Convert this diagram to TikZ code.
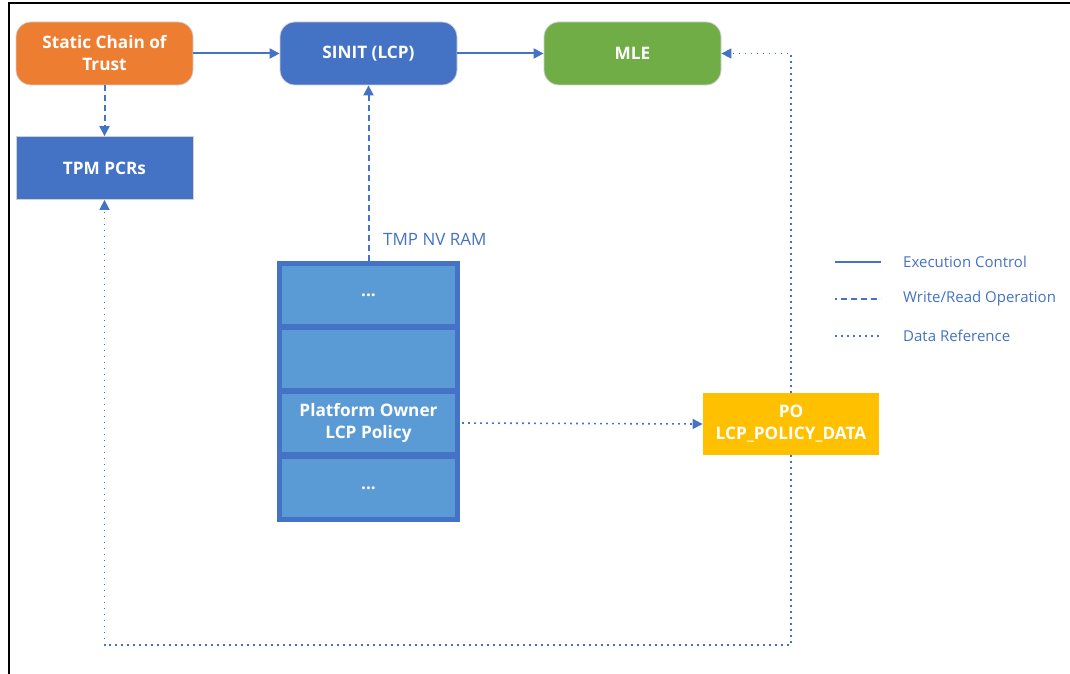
\documentclass[tikz,border=0pt]{standalone}
\usepackage{fontspec}
\setmainfont{Open Sans}
\usetikzlibrary{arrows.meta,calc}
\definecolor{cOrange}{HTML}{ED7D31}
\definecolor{cBlue}{HTML}{4472C4}
\definecolor{cGreen}{HTML}{70AD47}
\definecolor{cYellow}{HTML}{FFC000}
\definecolor{cLight}{HTML}{5B9BD5}
\definecolor{cEdge}{HTML}{D0D0D0}
\tikzset{
  boxfont/.style={font=\fontsize{17.2}{22}\selectfont\bfseries},
  box/.style={draw=cEdge, line width=0.8pt, text=white, boxfont,
    minimum width=177pt, minimum height=63pt, inner sep=0pt, align=center},
  rbox/.style={box, rounded corners=15pt},
  cell/.style={fill=cLight, text=white, boxfont,
    minimum width=173pt, inner sep=0pt, align=center},
  conn/.style={cBlue, line width=2pt, -{Triangle[length=10pt,width=10pt]}},
  dashedc/.style={dash pattern=on 6pt off 4pt},
  dottedc/.style={line width=1.6pt, dash pattern=on 1.6pt off 4.4pt},
  solidl/.style={cBlue, line width=2pt},
  dashedl/.style={cBlue, line width=2pt, dash pattern=on 6pt off 4pt},
  dottedl/.style={cBlue, line width=1.6pt, dash pattern=on 1.6pt off 4.4pt},
  legtext/.style={text=cBlue, font=\fontsize{15}{18}\selectfont, anchor=west, inner sep=0pt},
}
\begin{document}
\begin{tikzpicture}[x=1pt,y=-1pt]
\useasboundingbox (0,0) rectangle (1070,674);
\draw[line width=2pt] (1070,3) -- (9,3) -- (9,674);

\node[rbox, fill=cOrange] (scot) at (104.5,53.5) {Static Chain of\\Trust};
\node[rbox, fill=cBlue] (sinit) at (368.5,53.5) {SINIT (LCP)};
\node[rbox, fill=cGreen] (mle) at (632.5,53.5) {MLE};
\node[box, fill=cBlue] (tpm) at (104.5,168) {TPM PCRs};

% NV RAM stack
\node[fill=cBlue, minimum width=183pt, minimum height=261pt, inner sep=0pt] (stack) at (368.5,391.5) {};
\node[cell, minimum height=58pt] (c1) at (368.5,295) {...};
\node[cell, minimum height=58pt] (c2) at (368.5,359) {};
\node[cell, minimum height=58pt] (c3) at (368.5,423) {Platform Owner\\LCP Policy};
\node[cell, minimum height=58pt] (c4) at (368.5,488) {...};
\node[text=cBlue, font=\fontsize{17}{20}\selectfont, anchor=west, inner sep=0pt] (nvlabel) at (383,239) {TMP NV RAM};

\node[box, fill=cYellow, draw=none, minimum width=176pt, minimum height=62pt] (po) at (791,424) {PO\\LCP\_POLICY\_DATA};

% connectors
\draw[conn] (scot) -- (sinit);
\draw[conn] (sinit) -- (mle);
\draw[conn, dashedc] (scot) -- (tpm);
\draw[conn, dashedc] (stack.north) -- (sinit.south);
\draw[conn, dottedc] ($(stack.east)+(2,31.5)$) -- (po.west);
\draw[conn, dottedc] (po.north) |- (mle.east);
\coordinate (bl) at (104.5,645);
\draw[conn, dottedc] (po.south) |- (bl) -- (tpm.south);

% legend
\coordinate (l1a) at (835,262); \coordinate (l1b) at (881,262);
\coordinate (l2a) at (835,299); \coordinate (l2b) at (881,299);
\coordinate (l3a) at (835,336); \coordinate (l3b) at (881,336);
\draw[solidl] (l1a) -- (l1b);
\draw[dashedl, dash phase=4pt] (l2a) -- (l2b);
\draw[dottedl] (l3a) -- (l3b);
\node[legtext] (t1) at (903,262) {Execution Control};
\node[legtext] (t2) at (903,299) {Write/Read Operation};
\node[legtext] (t3) at (903,336) {Data Reference};
\end{tikzpicture}
\end{document}
